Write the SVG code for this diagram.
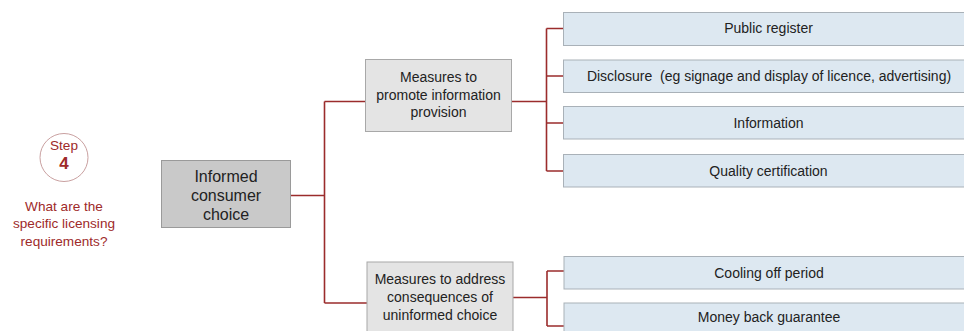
<svg xmlns="http://www.w3.org/2000/svg" width="964" height="331" viewBox="0 0 964 331">
  <style>
    text { font-family: "Liberation Sans", Arial, sans-serif; }
    .lbl { font-size: 14px; fill: #222; text-anchor: middle; }
    .big { font-size: 16px; fill: #222; text-anchor: middle; }
    .red { font-size: 13.6px; fill: #9e2a2a; text-anchor: middle; }
    .root { fill: #c9c9c9; stroke: #9a9a9a; stroke-width: 1; }
    .mid { fill: #e4e4e4; stroke: #a8a8a8; stroke-width: 1; }
    .leaf { fill: #dde8f1; stroke: #a9b1b8; stroke-width: 1; }
    .wire { fill: none; stroke: #9b2c2c; stroke-width: 1.6; }
  </style>
  <rect width="964" height="331" fill="#ffffff"/>

  <!-- step badge -->
  <g id="step">
    <circle cx="64" cy="157.5" r="24" fill="#fff" stroke="#c9a0a0" stroke-width="1"/>
    <text class="red" x="64" y="150">Step</text>
    <text x="64" y="168.5" font-size="17" font-weight="bold" fill="#9e2a2a" text-anchor="middle">4</text>
    <text class="red" x="64" y="210.5">What are the</text>
    <text class="red" x="64" y="228">specific licensing</text>
    <text class="red" x="64" y="245.5">requirements?</text>
  </g>

  <!-- connectors -->
  <g id="connectors">
    <path class="wire" d="M290.5 195.5 H324.5 M324.5 101.5 V303 M324.5 101.5 H365 M324.5 303 H367"/>
    <path class="wire" d="M511.5 101.5 H546.5 M546.5 28.5 V171 M546.5 28.5 H563.5 M546.5 76 H563.5 M546.5 123 H563.5 M546.5 171 H563.5"/>
    <path class="wire" d="M512.5 297.5 H547 M547 271 V326 M547 271 H564 M547 326 H564"/>
  </g>

  <g id="informed">
    <rect class="root" x="161.5" y="160.5" width="129" height="67"/>
    <text class="big" x="226" y="182">Informed</text>
    <text class="big" x="226" y="201">consumer</text>
    <text class="big" x="226" y="219.5">choice</text>
  </g>

  <g id="promote">
    <rect class="mid" x="365.5" y="59.5" width="146" height="72"/>
    <text class="lbl" x="438.5" y="82">Measures to</text>
    <text class="lbl" x="438.5" y="99.5">promote information</text>
    <text class="lbl" x="438.5" y="117">provision</text>
  </g>

  <g id="address">
    <rect class="mid" x="367" y="262" width="146" height="80"/>
    <text class="lbl" x="440" y="284">Measures to address</text>
    <text class="lbl" x="440" y="302">consequences of</text>
    <text class="lbl" x="440" y="320">uninformed choice</text>
  </g>

  <g id="public-register">
    <rect class="leaf" x="563.5" y="12.5" width="410" height="33"/>
    <text class="lbl" x="768.5" y="33">Public register</text>
  </g>
  <g id="disclosure">
    <rect class="leaf" x="563.5" y="60" width="410" height="32.5"/>
    <text class="lbl" x="769" y="81" xml:space="preserve">Disclosure  (eg signage and display of licence, advertising)</text>
  </g>
  <g id="information">
    <rect class="leaf" x="563.5" y="106.5" width="410" height="32.5"/>
    <text class="lbl" x="768.5" y="127.5">Information</text>
  </g>
  <g id="quality">
    <rect class="leaf" x="563.5" y="154.5" width="410" height="32.5"/>
    <text class="lbl" x="768.5" y="175.5">Quality certification</text>
  </g>
  <g id="cooling-off">
    <rect class="leaf" x="564" y="256.5" width="410" height="32.5"/>
    <text class="lbl" x="769" y="278">Cooling off period</text>
  </g>
  <g id="money-back">
    <rect class="leaf" x="564" y="303" width="410" height="40"/>
    <text class="lbl" x="769" y="322">Money back guarantee</text>
  </g>
</svg>
